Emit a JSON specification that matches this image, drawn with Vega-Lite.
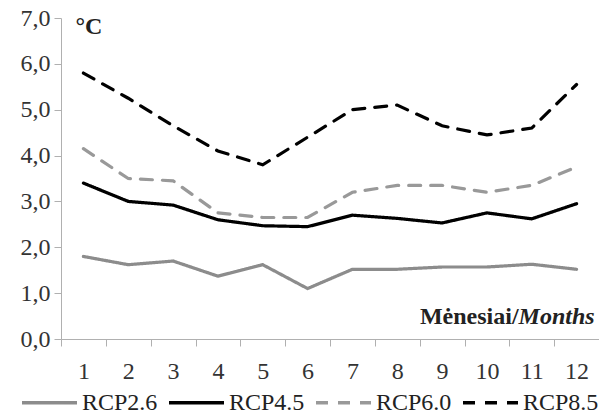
{
  "$schema": "https://vega.github.io/schema/vega-lite/v6.json",
  "width": 538,
  "height": 321,
  "autosize": {"type": "none"},
  "padding": {"left": 61, "top": 18, "right": 0, "bottom": 75},
  "config": {
    "view": {"stroke": null},
    "font": "Liberation Serif",
    "axis": {"labelFont": "Liberation Serif", "titleFont": "Liberation Serif"},
    "legend": {"labelFont": "Liberation Serif", "titleFont": "Liberation Serif"},
    "text": {"font": "Liberation Serif"}
  },
  "datasets": {
    "temps": [
      {"month": 1, "scenario": "RCP2.6", "value": 1.8},
      {"month": 2, "scenario": "RCP2.6", "value": 1.62},
      {"month": 3, "scenario": "RCP2.6", "value": 1.7},
      {"month": 4, "scenario": "RCP2.6", "value": 1.37},
      {"month": 5, "scenario": "RCP2.6", "value": 1.62},
      {"month": 6, "scenario": "RCP2.6", "value": 1.1},
      {"month": 7, "scenario": "RCP2.6", "value": 1.52},
      {"month": 8, "scenario": "RCP2.6", "value": 1.52},
      {"month": 9, "scenario": "RCP2.6", "value": 1.57},
      {"month": 10, "scenario": "RCP2.6", "value": 1.57},
      {"month": 11, "scenario": "RCP2.6", "value": 1.63},
      {"month": 12, "scenario": "RCP2.6", "value": 1.52},
      {"month": 1, "scenario": "RCP4.5", "value": 3.4},
      {"month": 2, "scenario": "RCP4.5", "value": 3.0},
      {"month": 3, "scenario": "RCP4.5", "value": 2.92},
      {"month": 4, "scenario": "RCP4.5", "value": 2.6},
      {"month": 5, "scenario": "RCP4.5", "value": 2.47},
      {"month": 6, "scenario": "RCP4.5", "value": 2.45},
      {"month": 7, "scenario": "RCP4.5", "value": 2.7},
      {"month": 8, "scenario": "RCP4.5", "value": 2.63},
      {"month": 9, "scenario": "RCP4.5", "value": 2.53},
      {"month": 10, "scenario": "RCP4.5", "value": 2.75},
      {"month": 11, "scenario": "RCP4.5", "value": 2.62},
      {"month": 12, "scenario": "RCP4.5", "value": 2.95},
      {"month": 1, "scenario": "RCP6.0", "value": 4.15},
      {"month": 2, "scenario": "RCP6.0", "value": 3.5},
      {"month": 3, "scenario": "RCP6.0", "value": 3.45},
      {"month": 4, "scenario": "RCP6.0", "value": 2.75},
      {"month": 5, "scenario": "RCP6.0", "value": 2.65},
      {"month": 6, "scenario": "RCP6.0", "value": 2.65},
      {"month": 7, "scenario": "RCP6.0", "value": 3.2},
      {"month": 8, "scenario": "RCP6.0", "value": 3.35},
      {"month": 9, "scenario": "RCP6.0", "value": 3.35},
      {"month": 10, "scenario": "RCP6.0", "value": 3.2},
      {"month": 11, "scenario": "RCP6.0", "value": 3.35},
      {"month": 12, "scenario": "RCP6.0", "value": 3.75},
      {"month": 1, "scenario": "RCP8.5", "value": 5.8},
      {"month": 2, "scenario": "RCP8.5", "value": 5.25},
      {"month": 3, "scenario": "RCP8.5", "value": 4.65},
      {"month": 4, "scenario": "RCP8.5", "value": 4.1},
      {"month": 5, "scenario": "RCP8.5", "value": 3.8},
      {"month": 6, "scenario": "RCP8.5", "value": 4.4},
      {"month": 7, "scenario": "RCP8.5", "value": 5.0},
      {"month": 8, "scenario": "RCP8.5", "value": 5.1},
      {"month": 9, "scenario": "RCP8.5", "value": 4.65},
      {"month": 10, "scenario": "RCP8.5", "value": 4.45},
      {"month": 11, "scenario": "RCP8.5", "value": 4.6},
      {"month": 12, "scenario": "RCP8.5", "value": 5.55}
    ],
    "titles": [
      {"part": "Months"},
      {"part": "Mėnesiai/"}
    ]
  },
  "layer": [
    {
      "data": {"name": "temps"},
      "mark": {"type": "line", "strokeWidth": 3.2, "strokeCap": "round"},
      "encoding": {
        "x": {
          "field": "month",
          "type": "ordinal",
          "scale": {"paddingInner": 0, "paddingOuter": 0},
          "axis": {
            "title": null,
            "labelAngle": 0,
            "tickBand": "extent",
            "tickSize": 7,
            "tickColor": "#b0b0b0",
            "domainColor": "#b0b0b0",
            "labelFont": "Liberation Serif",
            "labelFontSize": 24,
            "labelColor": "#333333",
            "labelPadding": 13,
            "grid": false
          }
        },
        "y": {
          "field": "value",
          "type": "quantitative",
          "scale": {"domain": [0, 7]},
          "axis": {
            "values": [0, 1, 2, 3, 4, 5, 6, 7],
            "labelExpr": "replace(format(datum.value, '.1f'), '.', ',')",
            "grid": false,
            "tickSize": 7,
            "tickColor": "#b0b0b0",
            "domainColor": "#b0b0b0",
            "labelFont": "Liberation Serif",
            "labelFontSize": 24,
            "labelColor": "#333333",
            "labelPadding": 4,
            "title": "°C",
            "titleFont": "Liberation Serif",
            "titleAngle": 0,
            "titleFontSize": 24,
            "titleFontWeight": "bold",
            "titleColor": "#222222",
            "titleAlign": "left",
            "titleBaseline": "middle",
            "titleX": 14,
            "titleY": 8
          }
        },
        "color": {
          "field": "scenario",
          "type": "nominal",
          "scale": {
            "domain": ["RCP2.6", "RCP4.5", "RCP6.0", "RCP8.5"],
            "range": ["#8c8c8c", "#000000", "#999999", "#000000"]
          },
          "legend": {
            "orient": "none",
            "direction": "horizontal",
            "legendX": -41,
            "legendY": 355,
            "title": null,
            "symbolType": "stroke",
            "symbolSize": 3025,
            "symbolStrokeWidth": 3.5,
            "labelFont": "Liberation Serif",
            "labelFontSize": 24,
            "labelColor": "#222222",
            "labelOffset": 3,
            "columnPadding": 4
          }
        },
        "strokeDash": {
          "field": "scenario",
          "type": "nominal",
          "scale": {
            "domain": ["RCP2.6", "RCP4.5", "RCP6.0", "RCP8.5"],
            "range": [[1, 0], [1, 0], [12, 10], [12, 10]]
          },
          "legend": {
            "orient": "none",
            "direction": "horizontal",
            "legendX": -41,
            "legendY": 355,
            "title": null,
            "symbolType": "stroke",
            "symbolSize": 3025,
            "symbolStrokeWidth": 3.5,
            "labelFont": "Liberation Serif",
            "labelFontSize": 24,
            "labelColor": "#222222",
            "labelOffset": 3,
            "columnPadding": 4
          }
        }
      }
    },
    {
      "data": {"name": "titles"},
      "transform": [{"filter": "datum.part == 'Months'"}],
      "mark": {"type": "text", "align": "right", "baseline": "alphabetic", "font": "Liberation Serif", "fontSize": 24, "fontWeight": "bold", "fontStyle": "italic", "color": "#222222", "dx": 18},
      "encoding": {"text": {"field": "part"}, "x": {"datum": 12, "type": "ordinal"}, "y": {"datum": 0.33, "type": "quantitative"}}
    },
    {
      "data": {"name": "titles"},
      "transform": [{"filter": "datum.part == 'Mėnesiai/'"}],
      "mark": {"type": "text", "align": "right", "baseline": "alphabetic", "font": "Liberation Serif", "fontSize": 24, "fontWeight": "bold", "color": "#222222", "dx": -58},
      "encoding": {"text": {"field": "part"}, "x": {"datum": 12, "type": "ordinal"}, "y": {"datum": 0.33, "type": "quantitative"}}
    }
  ]
}
